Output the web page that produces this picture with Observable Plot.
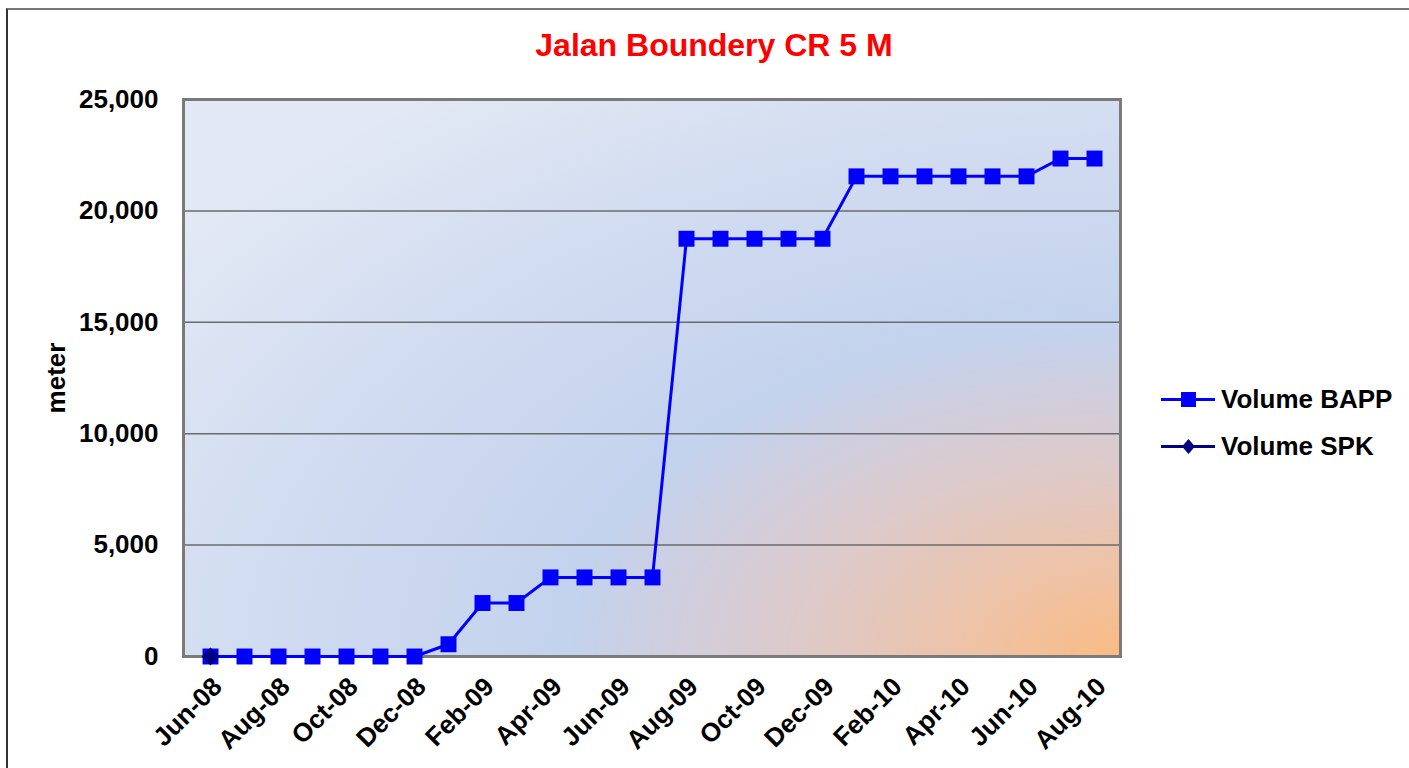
<!DOCTYPE html>
<html>
<head>
<meta charset="utf-8">
<script src="https://cdn.jsdelivr.net/npm/d3@7"></script>
<script src="https://cdn.jsdelivr.net/npm/@observablehq/plot@0.6"></script>
<style>
  html, body { margin: 0; padding: 0; background: #fff; width: 1409px; height: 768px; overflow: hidden; }
  #wrap { position: relative; width: 1409px; height: 768px; font-family: "Liberation Sans", Arial, sans-serif; }
  #border { position: absolute; left: 6px; top: 8px; width: 1500px; height: 900px; border-left: 2px solid #333; border-top: 2px solid #777; }
  #title { position: absolute; left: 0; top: 27px; width: 1428px; text-align: center; color: #ff0000; font-weight: bold; font-size: 32px; }
  #chart { position: absolute; left: 0; top: 0; }
  #legend { position: absolute; left: 1161px; top: 376px; font-weight: bold; font-size: 26px; color: #000; }
  .row { display: flex; align-items: center; height: 47px; }
  .row svg { margin-right: 4px; }
</style>
</head>
<body>
<div id="wrap">
  <div id="border"></div>
  <div id="chart"></div>
  <div id="title">Jalan Boundery CR 5 M</div>
  <div id="legend"></div>
</div>
<script>
const months = ["Jun-08","Jul-08","Aug-08","Sep-08","Oct-08","Nov-08","Dec-08",
  "Jan-09","Feb-09","Mar-09","Apr-09","May-09","Jun-09","Jul-09","Aug-09","Sep-09","Oct-09","Nov-09","Dec-09",
  "Jan-10","Feb-10","Mar-10","Apr-10","May-10","Jun-10","Jul-10","Aug-10"];
const volumeBAPP = [0,0,0,0,0,0,0,
  550,2400,2400,3550,3550,3550,3550,18750,18750,18750,18750,18750,
  21550,21550,21550,21550,21550,21550,22350,22350];
const spkMonths = ["Jun-08"];
const volumeSPK = [0];
const xTickLabels = ["Jun-08","Aug-08","Oct-08","Dec-08","Feb-09","Apr-09","Jun-09","Aug-09","Oct-09","Dec-09","Feb-10","Apr-10","Jun-10","Aug-10"];
const yTicks = [0,5000,10000,15000,20000,25000];
const seriesNames = ["Volume BAPP","Volume SPK"];

const bappData = months.map((m,i)=>({month:m, value:volumeBAPP[i]}));
const spkData = spkMonths.map((m,i)=>({month:m, value:volumeSPK[i]}));

const font = "'Liberation Sans', Arial, sans-serif";
const svg = Plot.plot({
  width: 1409, height: 768,
  marginLeft: 183, marginRight: 289, marginTop: 99, marginBottom: 112,
  x: {type: "point", domain: months, padding: 0.5},
  y: {domain: [0, 25000]},
  style: {fontFamily: font, fontWeight: "bold", fontSize: "26px", color: "#000", background: "transparent", overflow: "visible"},
  marks: [
    Plot.frame({fill: "url(#bg)", stroke: null}),
    Plot.ruleY(yTicks.filter(d => d > 0 && d < 25000), {stroke: "#6b6b6b", strokeWidth: 1.5}),
    Plot.frame({stroke: "#7a7a7a", strokeWidth: 3}),
    Plot.axisY({ticks: yTicks, tickSize: 0, tickPadding: 25, tickFormat: d3.format(","),
      fontSize: 26, fontWeight: "bold", label: "meter", labelAnchor: "center", labelArrow: "none", labelOffset: 137}),
    Plot.axisX({ticks: xTickLabels, tickRotate: -45, tickSize: 0, tickPadding: 26, dx: 7, fontSize: 26, fontWeight: "bold", label: null}),
    Plot.line(bappData, {x: "month", y: "value", stroke: "#0000ff", strokeWidth: 3}),
    Plot.dot(bappData, {x: "month", y: "value", symbol: "square", r: 9, fill: "#0000ff", stroke: null}),
    Plot.dot(spkData, {x: "month", y: "value", symbol: "diamond2", r: 8, fill: "#000080", stroke: null})
  ]
});
const ns = "http://www.w3.org/2000/svg";
const defs = document.createElementNS(ns, "defs");
defs.innerHTML = `<radialGradient id="bg" cx="1" cy="1" r="1.25">
  <stop offset="0" stop-color="#f9bb84"/>
  <stop offset="0.12" stop-color="#efc2a4"/>
  <stop offset="0.26" stop-color="#dfc9c6"/>
  <stop offset="0.36" stop-color="#d3cdda"/>
  <stop offset="0.47" stop-color="#c3d2ed"/>
  <stop offset="0.72" stop-color="#d0dbf0"/>
  <stop offset="1" stop-color="#e2e8f4"/>
</radialGradient>`;
svg.insertBefore(defs, svg.firstChild);
document.getElementById("chart").appendChild(svg);

// legend
const legend = document.getElementById("legend");
const legendStyles = [
  {color: "#0000ff", shape: "square"},
  {color: "#000080", shape: "diamond"}
];
seriesNames.forEach((name, i) => {
  const st = legendStyles[i];
  const row = document.createElement("div");
  row.className = "row";
  const marker = st.shape === "square"
    ? `<rect x="20" y="3" width="15" height="15" fill="${st.color}"/>`
    : `<path d="M27.5,3 L34,10.5 L27.5,18 L21,10.5 Z" fill="${st.color}"/>`;
  row.innerHTML = `<svg width="56" height="21"><line x1="0" y1="10.5" x2="54" y2="10.5" stroke="${st.color}" stroke-width="3"/>${marker}</svg><span>${name}</span>`;
  legend.appendChild(row);
});
</script>
</body>
</html>
